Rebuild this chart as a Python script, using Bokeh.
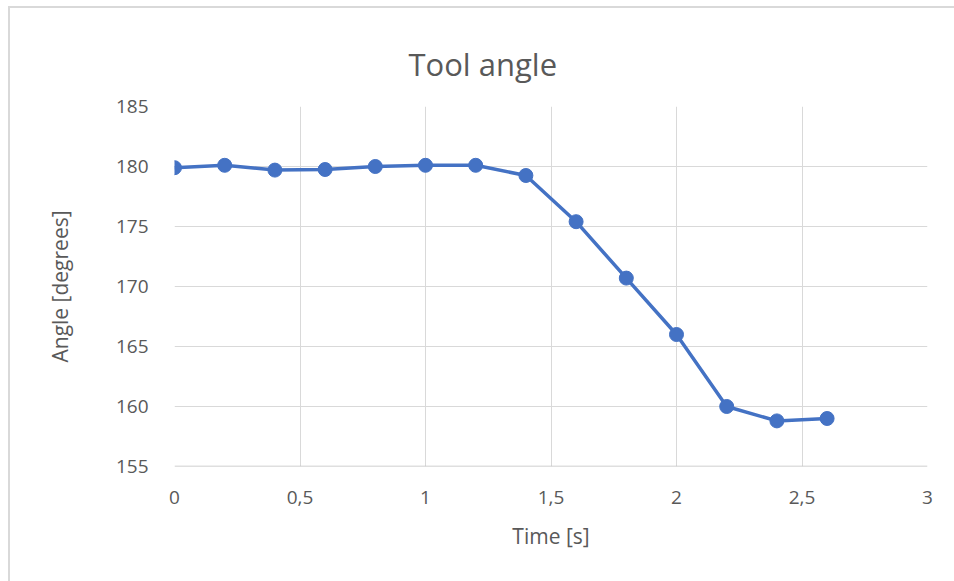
from bokeh.plotting import figure
from bokeh.models import FixedTicker, CustomJSTickFormatter, Range1d
from bokeh.embed import file_html
from bokeh.resources import INLINE

# Tool angle over time
time_s = [0.0, 0.2, 0.4, 0.6, 0.8, 1.0, 1.2, 1.4, 1.6, 1.8, 2.0, 2.2, 2.4, 2.6]
angle_deg = [179.9, 180.1, 179.7, 179.75, 180.0, 180.1, 180.1, 179.25,
             175.4, 170.7, 166.0, 160.0, 158.8, 159.0]

x_ticks = [0, 0.5, 1, 1.5, 2, 2.5, 3]
y_ticks = [155, 160, 165, 170, 175, 180, 185]

FONT = "Open Sans"
TEXT = "#595959"
GRID = "#d9d9d9"
BLUE = "#4472c4"

p = figure(width=946, height=575, output_backend="svg", toolbar_location=None,
           x_range=Range1d(0, 3), y_range=Range1d(155, 185),
           min_border_left=164, min_border_right=29, min_border_top=98,
           min_border_bottom=117)
p.margin = (6, 0, 0, 8)
p.styles = {"border-top": "2px solid #d9d9d9", "border-left": "2px solid #d9d9d9"}

# chart title, centred over the whole chart area rather than the plot frame
p.title.text = "Tool angle"
p.title.align = "left"
p.title.offset = 234
p.title.vertical_align = "top"
p.title.text_font = FONT
p.title.text_font_style = "normal"
p.title.text_font_size = "31px"
p.title.text_color = TEXT
p.title.standoff = 40

p.outline_line_color = None
p.background_fill_color = "white"
p.border_fill_color = "white"

p.xaxis.ticker = FixedTicker(ticks=x_ticks)
p.yaxis.ticker = FixedTicker(ticks=y_ticks)
p.xaxis.formatter = CustomJSTickFormatter(code="return String(tick).replace('.', ',');")

for ax in (p.xaxis[0], p.yaxis[0]):
    ax.axis_line_color = None
    ax.major_tick_line_color = None
    ax.minor_tick_line_color = None
    ax.major_label_text_font = FONT
    ax.major_label_text_font_size = "19px"
    ax.major_label_text_color = TEXT
    ax.axis_label_text_font = FONT
    ax.axis_label_text_font_size = "21px"
    ax.axis_label_text_font_style = "normal"
    ax.axis_label_text_color = TEXT

p.xaxis.axis_label = "Time [s]"
p.yaxis.axis_label = "Angle [degrees]"
p.xaxis.major_label_standoff = 18
p.yaxis.major_label_standoff = 20
p.xaxis.axis_label_standoff = 15
p.yaxis.axis_label_standoff = 39

p.xgrid.ticker = FixedTicker(ticks=x_ticks)
p.ygrid.ticker = FixedTicker(ticks=y_ticks)
p.xgrid.grid_line_color = GRID
p.ygrid.grid_line_color = GRID
p.xgrid.grid_line_width = 1
p.ygrid.grid_line_width = 1

# darker baseline at the bottom of the plot
p.line(x=[x_ticks[0], x_ticks[-1]], y=[y_ticks[0], y_ticks[0]],
       line_color="#bfbfbf", line_width=1.5)

p.line(x=time_s, y=angle_deg, line_color=BLUE, line_width=3.5)
p.scatter(x=time_s, y=angle_deg, size=14, fill_color=BLUE, line_color=BLUE)

open("out.html", "w").write(file_html(p, INLINE))
